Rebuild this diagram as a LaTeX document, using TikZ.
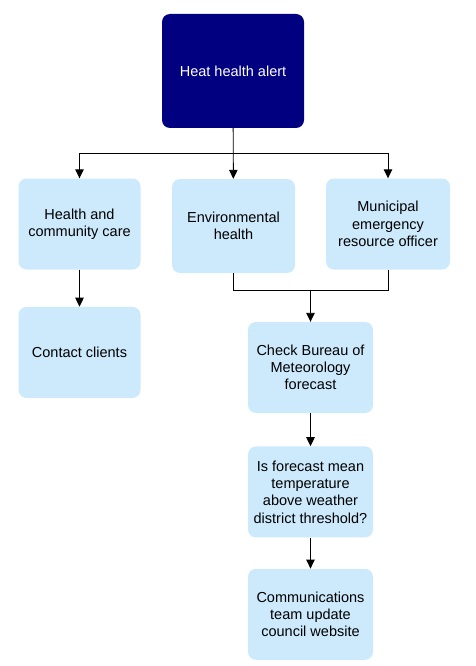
\documentclass[tikz,border=0pt]{standalone}
\usepackage{fontspec}
\setmainfont{Liberation Sans}
\usepackage{tikz}
\usetikzlibrary{arrows.meta, positioning}
\definecolor{alertblue}{HTML}{000080}
\definecolor{lightblue}{HTML}{CCEAFC}

\begin{document}
\begin{tikzpicture}[
  x=1pt, y=-1pt,
  node distance=32pt and 32pt,
  box/.style={rounded corners=8pt, align=center, fill=lightblue, minimum width=122pt, minimum height=91pt, inner sep=2pt, font=\fontsize{14.5}{17.3}\selectfont},
  alertbox/.style={box, fill=alertblue, text=white, minimum width=142pt, minimum height=114pt},
  arrow/.style={-{Triangle[length=9pt, width=8.5pt]}, line width=0.9pt},
  link/.style={line width=0.9pt}
]
  \useasboundingbox (0,0) rectangle (476,666);

  \node[alertbox] (alert) at (233,71) {Heat health alert};
  \node[box] (hcc) at (79.5,224) {Health and\\community care};
  \node[box, minimum width=123pt, minimum height=94pt] (env) at (233.5,226) {Environmental\\health};
  \node[box, minimum width=124pt] (meo) at (388,224) {Municipal\\emergency\\resource officer};
  \node[box, below=37pt of hcc] (contact) {Contact clients};
  \node[box, minimum width=125pt] (check) at (310.5,367.5) {Check Bureau of\\Meteorology\\forecast};
  \node[box, minimum width=125pt, below=33pt of check] (forecast) {Is forecast mean\\temperature\\above weather\\district threshold?};
  \node[box, minimum width=125pt, below=31pt of forecast] (comms) {Communications\\team update\\council website};

  \coordinate (fork) at (233,153);
  \coordinate (join) at (310.5,290);

  \draw[arrow] (alert) -- (env);
  \draw[arrow] (fork) -| (hcc);
  \draw[arrow] (fork) -| (meo);
  \draw[arrow] (hcc) -- (contact);
  \draw[link] (env) |- (join);
  \draw[link] (meo) |- (join);
  \draw[arrow] (join) -- (check);
  \draw[arrow] (check) -- (forecast);
  \draw[arrow] (forecast) -- (comms);
\end{tikzpicture}
\end{document}
